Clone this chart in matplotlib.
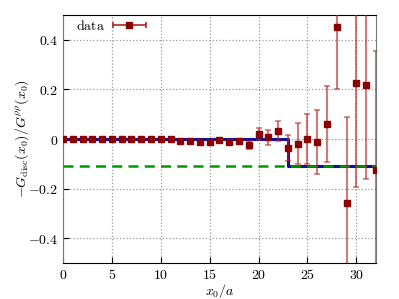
import numpy as np
import matplotlib
matplotlib.use("Agg")
import matplotlib.pyplot as plt
from matplotlib.ticker import FuncFormatter
from matplotlib.legend_handler import HandlerErrorbar
from matplotlib.container import ErrorbarContainer

plt.rcParams['mathtext.fontset'] = 'cm'
plt.rcParams['font.family'] = 'serif'
plt.rcParams['font.serif'] = ['DejaVu Serif']

# data
x0 = np.arange(0, 33)
vals = [0.0, 0.0, 0.0, 0.0, 0.0, 0.0, 0.001, 0.0, 0.0, -0.001, 0.0, 0.0,
        -0.006, -0.006, -0.013, -0.013, -0.002, -0.011, -0.008, -0.024,
        0.021, 0.007, 0.032, -0.035, -0.019, 0.0, -0.012, 0.059,
        0.45, -0.256, 0.225, 0.217, -0.126]
errs = [0.002, 0.002, 0.002, 0.002, 0.002, 0.002, 0.002, 0.002, 0.003, 0.003, 0.003, 0.003,
        0.004, 0.004, 0.005, 0.005, 0.006, 0.006, 0.009, 0.018,
        0.024, 0.031, 0.041, 0.053, 0.082, 0.1, 0.129, 0.153,
        0.247, 0.344, 0.42, 0.38, 0.48]

# step fit and constant
fit_x = [0, 23, 23, 32]
fit_y = [0.0, 0.0, -0.11, -0.11]
const_level = -0.11

fig = plt.figure(figsize=(3.99, 2.99), dpi=100)
ax = fig.add_axes([0.158, 0.120, 0.784, 0.830])

ax.plot(fit_x, fit_y, color='#10109a', lw=2.2, zorder=3)
ax.axhline(const_level, color='#009900', lw=1.8, ls=(0, (4, 2.5)), zorder=4)
eb = ax.errorbar(x0, vals, yerr=errs, fmt='s', color='#8b0000', ms=5,
                 ecolor='#b22222', elinewidth=1.5, capsize=2, capthick=1.2, zorder=5)
for c in eb[2]:
    c.set_alpha(0.6)
for c in eb[1]:
    c.set_alpha(0.6)

# legend proxy: horizontal error bar, drawn outside the view
proxy = ax.errorbar([-100], [0], xerr=[1], fmt='s', color='#8b0000', ms=5,
                    ecolor='#b22222', elinewidth=1.2, capsize=2, capthick=1.2,
                    label=r'$\mathrm{data}$')

ax.set_xlim(0, 32)
ax.set_ylim(-0.5, 0.5)
ax.set_xticks([0, 5, 10, 15, 20, 25, 30])
ax.set_yticks([-0.4, -0.2, 0, 0.2, 0.4])
ax.xaxis.set_major_formatter(FuncFormatter(lambda v, p: r'$%d$' % v))
ax.yaxis.set_major_formatter(FuncFormatter(lambda v, p: r'$0$' if abs(v) < 1e-9 else r'$%.1f$' % v))
ax.tick_params(direction='in', length=4, labelsize=10, top=False, right=False)
ax.grid(True, ls=':', color='#999999', lw=0.9)

for s in ['left', 'right']:
    ax.spines[s].set_color('#777777')
ax.spines['top'].set_color('black')
ax.spines['bottom'].set_color('black')

ax.set_xlabel(r'$x_0/a$', fontsize=10, labelpad=0)
ax.set_ylabel(r'$-G_{\rm disc}(x_0)/G^{\rho\rho}(x_0)$', fontsize=10, labelpad=-2)

ax.legend(loc='upper left', bbox_to_anchor=(0.0, 1.035), frameon=False,
          markerfirst=False, fontsize=10, handlelength=2.6, handletextpad=0.5,
          handler_map={ErrorbarContainer: HandlerErrorbar(xerr_size=1.2)})

fig.savefig('out.png', dpi=100)
